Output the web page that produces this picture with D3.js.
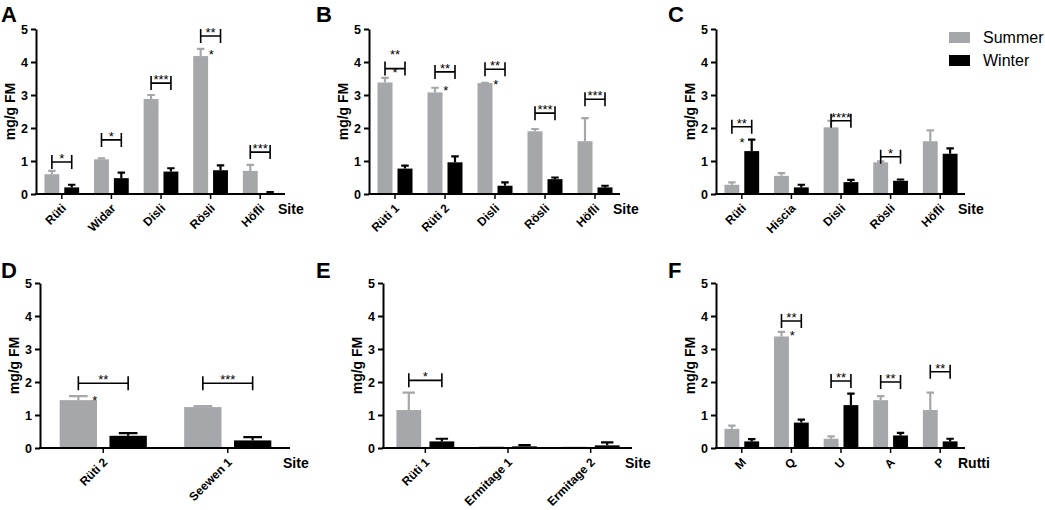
<!DOCTYPE html>
<html>
<head>
<meta charset="utf-8">
<script src="https://cdn.jsdelivr.net/npm/d3@7"></script>
<style>
  body { margin: 0; background: #fff; }
  svg { display: block; font-family: Arial, "Liberation Sans", sans-serif; }
</style>
</head>
<body>
<svg id="drawing_region"></svg>
<script>
// ---- data (mean, error = upper SEM) ----
const sitesA = ["Rüti", "Widar", "Disli", "Rösli", "Höfli"];
const summerA = [0.6, 1.05, 2.88, 4.18, 0.7];
const summerErrA = [0.1, 0.03, 0.12, 0.22, 0.18];
const winterA = [0.2, 0.48, 0.68, 0.72, 0.03];
const winterErrA = [0.08, 0.17, 0.1, 0.15, 0.03];
const sigA = [{i:0, v:0.97, t:"*"}, {i:1, v:1.64, t:"*"}, {i:2, v:3.36, t:"***"}, {i:3, v:4.79, t:"**"}, {i:4, v:1.27, t:"***"}];
const starA = [{i:3, v:4.3, at:"s"}];

const sitesB = ["Rüti 1", "Rüti 2", "Disli", "Rösli", "Höfli"];
const summerB = [3.38, 3.08, 3.36, 1.9, 1.6];
const summerErrB = [0.14, 0.14, 0.01, 0.07, 0.7];
const winterB = [0.77, 0.96, 0.25, 0.45, 0.2];
const winterErrB = [0.09, 0.18, 0.1, 0.05, 0.05];
const sigB = [{i:0, v:3.8, t:"**", lv:4.3}, {i:1, v:3.7, t:"**"}, {i:2, v:3.78, t:"**"}, {i:3, v:2.45, t:"***"}, {i:4, v:2.87, t:"***"}];
const starB = [{i:0, v:3.75, at:"m"}, {i:1, v:3.22, at:"s"}, {i:2, v:3.4, at:"s"}];

const sitesC = ["Rüti", "Hiscia", "Disli", "Rösli", "Höfli"];
const summerC = [0.28, 0.55, 2.02, 0.96, 1.6];
const summerErrC = [0.07, 0.08, 0.2, 0.03, 0.33];
const winterC = [1.3, 0.2, 0.36, 0.4, 1.22];
const winterErrC = [0.35, 0.08, 0.07, 0.04, 0.16];
const sigC = [{i:0, v:2.04, t:"**"}, {i:2, v:2.22, t:"****"}, {i:3, v:1.13, t:"*"}];
const starC = [{i:0, v:1.65, at:"w"}];

const sitesD = ["Rüti 2", "Seewen 1"];
const summerD = [1.45, 1.24];
const summerErrD = [0.12, 0.03];
const winterD = [0.37, 0.23];
const winterErrD = [0.08, 0.1];
const sigD = [{i:0, v:1.96, t:"**"}, {i:1, v:1.96, t:"***"}];
const starD = [{i:0, v:1.52, at:"s"}];

const sitesE = ["Rüti 1", "Ermitage 1", "Ermitage 2"];
const summerE = [1.15, 0.05, 0.04];
const summerErrE = [0.53, 0, 0];
const winterE = [0.2, 0.05, 0.08];
const winterErrE = [0.08, 0.04, 0.09];
const sigE = [{i:0, v:2.05, t:"*"}];
const starE = [];

const sitesF = ["M", "Q", "U", "A", "P"];
const summerF = [0.58, 3.38, 0.28, 1.45, 1.15];
const summerErrF = [0.1, 0.14, 0.07, 0.12, 0.53];
const winterF = [0.2, 0.77, 1.3, 0.38, 0.2];
const winterErrF = [0.07, 0.09, 0.35, 0.08, 0.08];
const sigF = [{i:1, v:3.85, t:"**"}, {i:2, v:2.03, t:"**"}, {i:3, v:2.0, t:"**"}, {i:4, v:2.31, t:"**"}];
const starF = [{i:1, v:3.48, at:"s"}];

const seasons = ["Summer", "Winter"];
const yTicks = [0, 1, 2, 3, 4, 5];

// ---- layout ----
const colors = { Summer: "#a6a7ab", Winter: "#000000" };

const panels = [
  {letter:"A", cats:sitesA, s:summerA, se:summerErrA, w:winterA, we:winterErrA, sig:sigA, star:starA, xlab:"Site", x0:37, x1:285, y0:194, y5:29, lx:1, ly:22},
  {letter:"B", cats:sitesB, s:summerB, se:summerErrB, w:winterB, we:winterErrB, sig:sigB, star:starB, xlab:"Site", x0:370, x1:620, y0:194, y5:29, lx:316, ly:22},
  {letter:"C", cats:sitesC, s:summerC, se:summerErrC, w:winterC, we:winterErrC, sig:sigC, star:starC, xlab:"Site", x0:717, x1:965, y0:194, y5:29, lx:668, ly:22},
  {letter:"D", cats:sitesD, s:summerD, se:summerErrD, w:winterD, we:winterErrD, sig:sigD, star:starD, xlab:"Site", x0:41, x1:290, y0:448, y5:283, lx:1, ly:278},
  {letter:"E", cats:sitesE, s:summerE, se:summerErrE, w:winterE, we:winterErrE, sig:sigE, star:starE, xlab:"Site", x0:384, x1:632, y0:448, y5:283, lx:316, ly:278},
  {letter:"F", cats:sitesF, s:summerF, se:summerErrF, w:winterF, we:winterErrF, sig:sigF, star:starF, xlab:"Rutti", x0:717, x1:965, y0:448, y5:283, lx:668, ly:278}
];

const svg = d3.select("#drawing_region")
  .attr("width", 1045)
  .attr("height", 510);

panels.forEach(p => drawPanel(p));

function drawPanel(p) {
  const g = svg.append("g");

  const yscale = d3.scaleLinear().domain([0, 5]).range([p.y0, p.y5]);
  const xscale = d3.scaleBand().domain(p.cats).range([p.x0, p.x1]);
  const sscale = d3.scaleBand().domain(seasons)
    .range([0, xscale.bandwidth()])
    .paddingInner(0.25).paddingOuter(0.375);
  const bw = sscale.bandwidth();

  const rows = p.cats.map((c, i) => ({
    cat: c,
    vals: [
      {key:"Summer", v:p.s[i], e:p.se[i]},
      {key:"Winter", v:p.w[i], e:p.we[i]}
    ]
  }));

  // bars
  const grp = g.selectAll("g.grp")
    .data(rows)
    .enter()
    .append("g")
    .attr("transform", d => `translate(${xscale(d.cat)},0)`);

  grp.selectAll("rect")
    .data(d => d.vals)
    .enter()
    .append("rect")
    .attr("x", d => sscale(d.key))
    .attr("y", d => yscale(d.v))
    .attr("width", bw)
    .attr("height", d => yscale(0) - yscale(d.v))
    .attr("fill", d => colors[d.key]);

  // error bars (upper only)
  grp.selectAll("path.err")
    .data(d => d.vals.filter(v => v.e > 0))
    .enter()
    .append("path")
    .attr("class", "err")
    .attr("d", d => {
      const cx = sscale(d.key) + bw / 2;
      const top = yscale(d.v + d.e);
      return `M${cx},${yscale(d.v)}V${top}M${cx - bw / 4},${top}H${cx + bw / 4}`;
    })
    .attr("fill", "none")
    .attr("stroke", d => colors[d.key])
    .attr("stroke-width", 2.2);

  // y axis
  const yaxis = d3.axisLeft(yscale).tickValues(yTicks).tickFormat(d3.format("d"))
    .tickSize(5).tickSizeOuter(0).tickPadding(3);
  const yg = g.append("g")
    .attr("transform", `translate(${p.x0 - 1},0)`)
    .call(yaxis);
  yg.select(".domain").attr("stroke-width", 2);
  yg.selectAll(".tick line").attr("stroke-width", 2);
  yg.selectAll(".tick text")
    .attr("font-size", "12.5px")
    .attr("font-weight", "bold")
    .attr("font-family", "Arial, 'Liberation Sans', sans-serif")
    .attr("fill", "#000");

  // x axis
  const xaxis = d3.axisBottom(xscale).tickSize(5).tickSizeOuter(0).tickFormat("");
  const xg = g.append("g")
    .attr("transform", `translate(0,${p.y0})`)
    .call(xaxis);
  xg.select(".domain").attr("stroke-width", 2).attr("d", `M${p.x0 - 2},0H${p.x1}`);
  xg.selectAll(".tick line").attr("stroke-width", 1.5);

  g.selectAll("text.cat")
    .data(p.cats)
    .enter()
    .append("text")
    .attr("class", "cat")
    .attr("transform", d => `translate(${xscale(d) + xscale.bandwidth() / 2 + 5},${p.y0 + 15}) rotate(-45)`)
    .attr("text-anchor", "end")
    .attr("font-size", "12px")
    .attr("font-weight", "bold")
    .text(d => d);

  g.append("text")
    .attr("x", p.x1 - 7)
    .attr("y", p.y0 + 20)
    .attr("font-size", "14px")
    .attr("font-weight", "bold")
    .text(p.xlab);

  // y label
  const ycx = p.x0 - 22;
  const ycy = (p.y0 + p.y5) / 2;
  g.append("text")
    .attr("x", ycx)
    .attr("y", ycy)
    .attr("text-anchor", "middle")
    .attr("font-size", "14px")
    .attr("font-weight", "bold")
    .attr("transform", `rotate(-90,${ycx},${ycy})`)
    .text("mg/g FM");

  // panel letter
  g.append("text")
    .attr("x", p.lx)
    .attr("y", p.ly)
    .attr("font-size", "22px")
    .attr("font-weight", "bold")
    .text(p.letter);

  // significance brackets
  const bx = (i, key) => xscale(p.cats[i]) + sscale(key) + bw / 2;
  g.selectAll("path.sig")
    .data(p.sig)
    .enter()
    .append("path")
    .attr("d", d => {
      const a = bx(d.i, "Summer"), b = bx(d.i, "Winter"), yy = yscale(d.v);
      return `M${a},${yy - 7}V${yy + 7}M${a},${yy}H${b}M${b},${yy - 7}V${yy + 7}`;
    })
    .attr("fill", "none")
    .attr("stroke", "#000")
    .attr("stroke-width", 1.6);

  g.selectAll("text.sig")
    .data(p.sig)
    .enter()
    .append("text")
    .attr("x", d => (bx(d.i, "Summer") + bx(d.i, "Winter")) / 2)
    .attr("y", d => d.lv ? yscale(d.lv) + 7 : yscale(d.v) + 1)
    .attr("text-anchor", "middle")
    .attr("font-size", "13px")
    .text(d => d.t);

  // single stars next to bars
  g.selectAll("text.star")
    .data(p.star)
    .enter()
    .append("text")
    .attr("x", d => {
      if (d.at === "m") return (bx(d.i, "Summer") + bx(d.i, "Winter")) / 2;
      if (d.at === "w") return bx(d.i, "Winter") - bw / 4 - 6;
      return bx(d.i, "Summer") + bw / 4 + 7;
    })
    .attr("y", d => yscale(d.v) + 7)
    .attr("text-anchor", "middle")
    .attr("font-size", "13px")
    .text("*");
}

// legend
const legend = svg.append("g")
  .selectAll("g")
  .data(seasons)
  .enter()
  .append("g")
  .attr("transform", (d, i) => `translate(949,${32 + i * 23})`);

legend.append("rect")
  .attr("width", 21)
  .attr("height", 11)
  .attr("fill", d => colors[d]);

legend.append("text")
  .attr("x", 34)
  .attr("y", 11)
  .attr("font-size", "16px")
  .text(d => d);
</script>
</body>
</html>
